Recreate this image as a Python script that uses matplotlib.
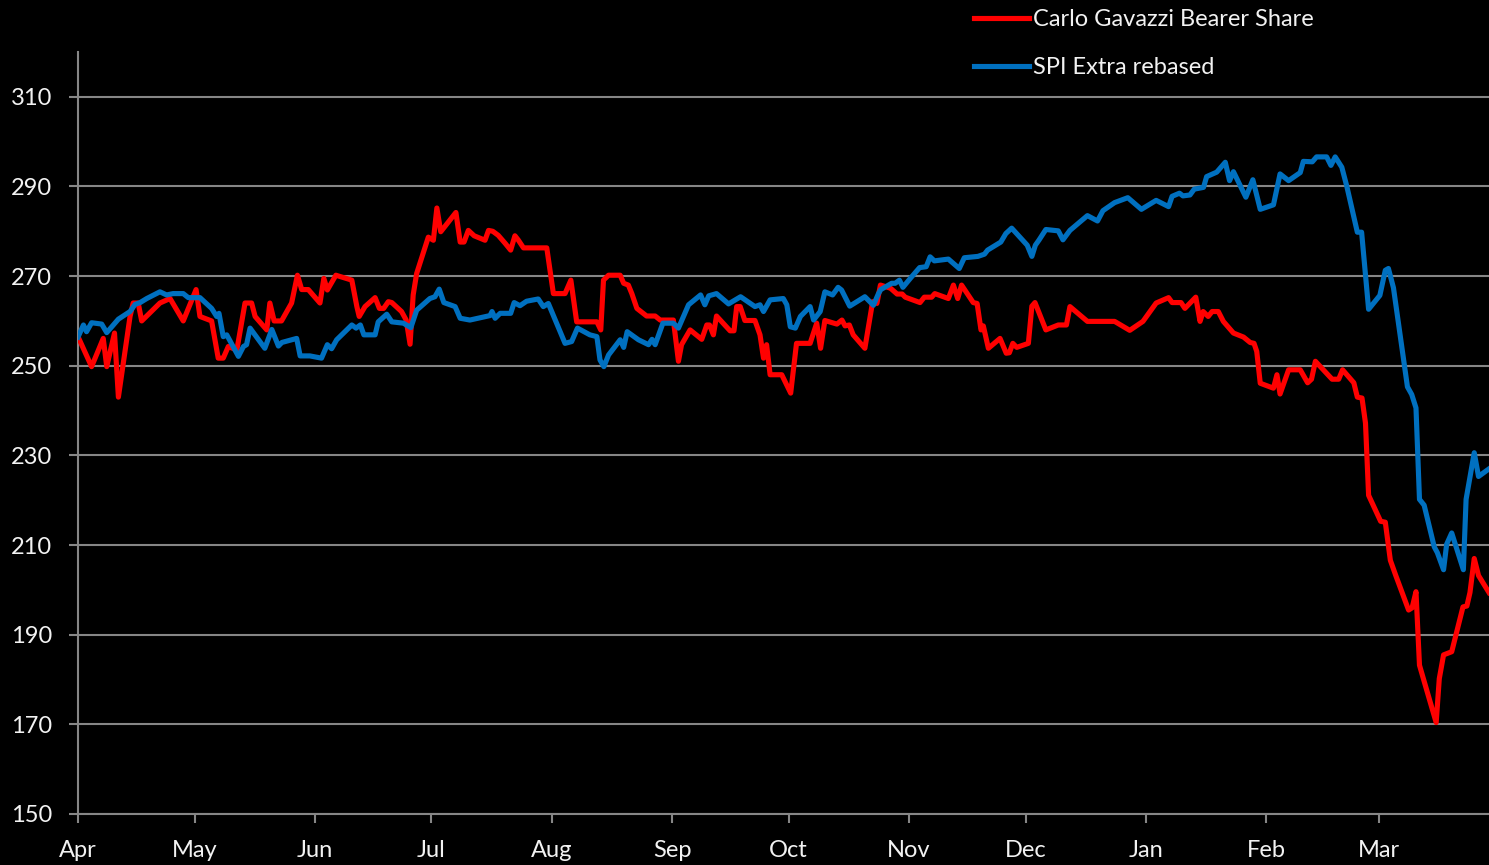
import matplotlib
matplotlib.use("Agg")
import matplotlib.pyplot as plt
import matplotlib.dates as mdates
import pandas as pd

plt.rcParams['font.family'] = ['Lato', 'DejaVu Sans']

start = pd.Timestamp('2019-04-01')

# days after 1 Apr 2019
red_days = [0, 3.5, 6.5, 7.4, 9.4, 10.4, 13.4, 14.2, 15.5, 16.4, 21.1, 23.7, 27.1, 30.4, 31.4,
            34.4, 36.1, 37.4, 38.7, 40.9, 43, 44.7, 45.6, 48.6, 49.4, 50.5, 52.4, 55, 56.5, 57.6,
            59.3, 62.3, 63.3, 64.2, 66.4, 70.5, 71.8, 72.4, 73.9, 76.5, 77.6, 78.7, 79.9, 80.8,
            83.3, 84.5, 85.5, 86.3, 87.2, 90.2, 91.5, 92.4, 93.4, 97.3, 98.4, 99.4, 100.5, 102,
            104.8, 105.7, 106.8, 108.2, 110, 111.4, 112.5, 113.4, 114.7, 120.7, 122.4, 125.4,
            126.9, 128.4, 133.6, 134.6, 135.3, 136.6, 139.6, 140.5, 141.7, 142.6, 143.9, 146.4,
            148.6, 149.9, 153.3, 154.6, 155.4, 157.6, 160.6, 161.9, 162.6, 163.6, 164.4, 167.9,
            168.9, 169.6, 170.5, 171.7, 174.3, 175.6, 176.5, 177.3, 178.2, 181.2, 183.5, 185,
            188.5, 190.2, 191.2, 192.3, 195.4, 196.7, 197.5, 198.6, 199.6, 202.6, 204.6, 205.7,
            206.6, 209.2, 210.9, 212.2, 213, 216.8, 217.9, 219.8, 220.6, 224.1, 225.4, 226.5,
            227.5, 230.5, 231.5, 232.5, 233.1, 234.4, 237.4, 239, 239.8, 240.7, 241.7, 244.7,
            245.6, 246.4, 249.2, 252.4, 254.5, 255.4, 259.9, 266.9, 270.8, 274.2, 277.6, 280.8,
            281.7, 284, 285, 287.8, 288.9, 289.7, 291, 292, 293.6, 294.9, 297.5, 300.1, 301.8,
            302.8, 303.5, 304.4, 307.8, 308.7, 309.5, 311.7, 314.7, 316.6, 317.6, 318.6, 322.9,
            324.6, 325.6, 328.5, 329.4, 330.6, 331.5, 332.3, 335.4, 336.6, 337.9, 339.3, 342.6,
            343.5, 344.5, 345.4, 346.4, 349.7, 350.5, 351.6, 353.7, 356.6, 357.6, 358.4, 359.5,
            360.6, 363.3]
red_vals = [256.5, 249.8, 256.1, 249.8, 257.3, 243, 261, 264, 264, 260, 264, 265, 260, 267, 261,
            260, 251.7, 251.7, 254.3, 253.5, 264, 264, 261, 258, 264, 260, 260, 264, 270.2, 267,
            267, 264, 269.5, 266.9, 270.2, 269.1, 263.2, 261, 263.2, 265.2, 262.8, 262.8, 264.3, 264.1,
            262.1, 260.2, 254.8, 265.8, 270.6, 278.7, 278, 285.2, 279.9, 284.2, 277.6, 277.6, 280.2, 279,
            278, 280.2, 280, 279.1, 277.3, 275.8, 279, 278, 276.3, 276.3, 266.1, 266.1,
            269.1, 259.8, 259.8, 258, 269.1, 270.2, 270.2, 268.4, 268, 266.1, 262.8, 261.1,
            261.1, 260.2, 260.2, 251, 254.7, 258, 255.9, 259.1, 259.1, 256.9, 261.1, 257.8,
            257.8, 263.2, 263.2, 260.1, 260.1, 256.9, 251.7, 254.7, 248, 248, 243.9, 255,
            255, 259.5, 253.9, 260.1, 259.3, 260.2, 258.9, 259.1, 256.9, 253.9, 264.3, 263.9,
            268, 267.3, 266, 266, 265.3, 264.1, 265.3, 265.3, 266.1, 265, 268, 265,
            268, 264.1, 263.9, 258, 258.9, 253.9, 256.1, 252.8, 252.9, 255, 254.1, 255,
            263.3, 264.1, 258, 259.1, 259.1, 263.2, 259.9, 259.9, 257.9, 259.9, 264, 265.2,
            264.1, 264.1, 262.8, 265.3, 259.9, 262.1, 261, 262.1, 262.1, 259.9, 257.3, 256.4, 255.2,
            255, 253.2, 246.1, 245, 248, 243.7, 249.1, 249.1, 246.2, 247, 251, 247,
            247, 249.1, 246.2, 243, 242.8, 237.2, 221.1, 215.3, 215.1, 206.6, 203.2, 195.5,
            196, 199.6, 183.2, 180.2, 170.4, 180.2, 185.5, 186.2, 196.2, 196.4, 199.4, 207,
            203.2, 199.4]

blue_days = [0, 1.4, 2.2, 3.5, 6.1, 7.4, 10.4, 13.4, 14.7, 16, 17.7, 21.1, 22.8, 24.5, 27.1,
             28.4, 31.4, 34.4, 35.7, 36.3, 37.4, 38.3, 41.3, 42.6, 43.4, 44.3, 48.1, 49.9, 51.6,
             52.5, 56.3, 57.2, 59.7, 62.7, 64.2, 65.3, 66.6, 70.5, 71.6, 72.7, 73.6, 76.5, 77.3,
             79.5, 80.8, 83.8, 85.7, 87.2, 90.6, 91.9, 93, 94.2, 97.1, 98.4, 100.9, 106.1, 106.6,
             107.4, 108.7, 111.4, 112.3, 113.8, 115.5, 118.5, 119.8, 121.1, 125.4, 127.1, 128.6,
             131.8, 133.6, 134.4, 135.4, 136.6, 139.6, 140.5, 141.4, 144.3, 146.9, 147.8, 148.6,
             150.6, 153.3, 154.6, 157.2, 160.3, 161.4, 162.4, 164.4, 167.5, 170.6, 174.3, 175.6,
             176.5, 178.2, 181.6, 182.5, 183.4, 184.7, 186, 188.5, 189.4, 191.1, 192.3, 194.3,
             195.7, 196.6, 198.7, 202.6, 204.8, 206.1, 206.7, 209.5, 210.4, 211.5, 212.4, 214.3,
             216.7, 218.4, 219.4, 220.5, 224.1, 226.9, 228.2, 231.7, 233.4, 234.2, 237.6, 238.9,
             240.4, 244.4, 245.6, 246.5, 247.4, 249.2, 252.4, 253.6, 255.4, 259.9, 262.5, 263.9,
             266.9, 270.3, 273.8, 277.6, 280.8, 281.7, 283.6, 284.5, 286.3, 287.4, 289.8, 290.6,
             293.2, 295.4, 296.5, 297.5, 300.7, 302.5, 304.4, 307.8, 309.5, 311.7, 314.7, 315.5,
             317.8, 318.9, 321.5, 322.6, 323.7, 325.4, 326.7, 329.4, 330.5, 332.3, 335.2, 336.6,
             337.4, 338.7, 340, 342.3, 343.4, 344.5, 345.4, 346.6, 349.2, 350, 351.6, 352.4,
             353.7, 356.7, 357.4, 359.5, 360.6, 363.3]
blue_vals = [256.4, 259.1, 257.6, 259.6, 259.3, 257.4, 260.4, 262.1, 263.7, 264.1, 265, 266.5, 265.8, 266.1, 266.1,
             265.2, 265.2, 262.8, 261, 261.7, 256.5, 256.9, 252.1, 254.3, 254.7, 258.4, 253.9, 258.1, 254.4,
             255.2, 256.1, 252.2, 252.2, 251.7, 254.7, 253.8, 255.8, 259.1, 258.4, 259.1, 256.9, 256.9, 259.8,
             261.5, 259.8, 259.5, 258.5, 262.4, 265, 265.4, 267.1, 264.1, 263.2, 260.6, 260.2, 261.2, 262.1,
             260.6, 261.7, 261.7, 264.1, 263.4, 264.4, 264.9, 263.2, 263.9, 255, 255.4, 258.4,
             256.9, 256.5, 251.3, 249.8, 252.4, 255.8, 254.1, 257.6, 255.8, 254.7, 255.9, 254.7,
             259.5, 259.5, 258.4, 263.6, 265.8, 263.6, 265.6, 266.1, 263.8, 265.4, 263.2, 263.6,
             262.1, 264.7, 265, 263.6, 258.7, 258.4, 261, 263.2, 260.2, 262.1, 266.5, 265.8,
             267.5, 266.9, 263.3, 265.4, 263.5, 266.1, 267, 268.4, 268.4, 269.1, 267.5, 269.5,
             271.9, 272.1, 274.3, 273.4, 273.8, 271.7, 274.1, 274.4, 274.9, 275.8, 277.6, 279.5,
             280.7, 276.9, 274.4, 276.9, 278, 280.4, 280.1, 278.1, 280.2, 283.5, 282.3, 284.6,
             286.4, 287.5, 284.9, 286.9, 285.5, 287.8, 288.5, 287.9, 288.1, 289.4, 289.8, 292.2,
             293.2, 295.4, 291.3, 293.3, 287.6, 291.5, 284.9, 285.9, 292.8, 291.3, 293.1, 295.6,
             295.5, 296.6, 296.6, 294.7, 296.6, 294.3, 290, 279.8, 279.8, 262.6, 265.7, 271.3,
             271.7, 267.4, 259.4, 245.3, 243.6, 240.6, 220.2, 218.9, 209.6, 208.3, 204.5, 210.2,
             212.7, 204.5, 220.2, 230.6, 225.3, 227]

red_dates = start + pd.to_timedelta(red_days, unit='D')
blue_dates = start + pd.to_timedelta(blue_days, unit='D')

fig = plt.figure(figsize=(14.89, 8.65), dpi=100, facecolor='black')
ax = fig.add_axes([78 / 1489, 51 / 865, 1 - 78 / 1489, 1 - 51 / 865 - 52 / 865])
ax.set_facecolor('black')

grid_c = '#868686'
ax.plot(red_dates, red_vals, color='#ff0000', lw=3.7, label='Carlo Gavazzi Bearer Share',
        solid_joinstyle='round', zorder=3)
ax.plot(blue_dates, blue_vals, color='#0070c0', lw=3.7, label='SPI Extra rebased',
        solid_joinstyle='round', zorder=4)

ax.set_ylim(150, 320)
ax.set_yticks(range(150, 311, 20))
ax.set_xlim(start, start + pd.Timedelta(days=363.3))
ax.xaxis.set_major_locator(mdates.MonthLocator())
ax.xaxis.set_major_formatter(mdates.DateFormatter('%b'))

ax.grid(axis='y', color=grid_c, lw=1.5)
ax.set_axisbelow(True)
for s in ['top', 'right']:
    ax.spines[s].set_visible(False)
for s in ['left', 'bottom']:
    ax.spines[s].set_color(grid_c)
    ax.spines[s].set_linewidth(1.5)
ax.tick_params(axis='both', colors=grid_c, width=1.5, length=6.5, labelsize=17, labelcolor='#f2f2f2')
ax.tick_params(axis='y', pad=12)
ax.tick_params(axis='x', pad=12)

fig.legend(loc='upper left', bbox_to_anchor=(974 / 1489, 1 - 9 / 865), frameon=False,
           fontsize=17, labelcolor='#f2f2f2', handlelength=2.35, handletextpad=0.15,
           labelspacing=1.15, borderpad=0, borderaxespad=0)

fig.savefig('out.png', dpi=100, facecolor='black')
